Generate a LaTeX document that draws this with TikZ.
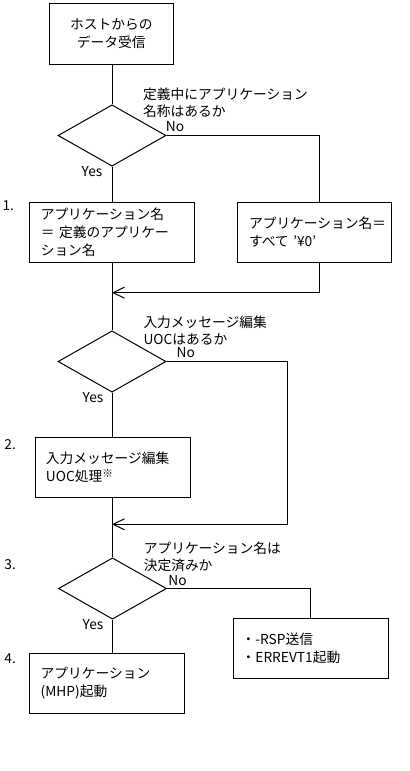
\documentclass[tikz,border=0pt]{standalone}
\usepackage{fontspec}
\setmainfont{Noto Sans CJK JP}
\usetikzlibrary{arrows.meta,shapes.geometric,calc}
\begin{document}
\begin{tikzpicture}[x=0.75pt,y=-0.75pt,line width=0.75pt,
  every node/.style={font=\fontsize{10.3pt}{13.2pt}\selectfont,inner sep=0pt},
  pbox/.style={draw,rectangle,minimum height=45pt,align=left,inner ysep=0pt},
  decision/.style={draw,diamond,minimum width=81pt,minimum height=46pt,inner sep=0pt},
  qtext/.style={anchor=west,align=left},
  arr/.style={-{Straight Barb[length=8.5pt,width=8.3pt]}}]
\useasboundingbox (0,0) rectangle (410,771);

% boxes
\node[pbox,align=center,minimum width=93pt,minimum height=45.5pt] (A) at (111.3,33.7) {ホストからの\\データ受信};
\node[decision] (D1) at (112,135.5) {};
\node[pbox,minimum width=123.5pt,text width=106.4pt,inner xsep=8.55pt] (B1) at (111.7,232.3)
  {アプリケーション名\\＝ 定義のアプリケー\\ション名};
\node[pbox,minimum width=115.8pt,text width=98.2pt,inner xsep=8.8pt] (R1) at (314.5,232.3)
  {アプリケーション名＝\\すべて '¥0'};
\node[decision] (D2) at (112,361.5) {};
\node[pbox,minimum width=116.25pt,text width=100.25pt,inner xsep=8pt] (B2) at (112.8,467.5)
  {入力メッセージ編集\\UOC処理\raisebox{0.3em}{\fontsize{8pt}{8pt}\selectfont ※}};
\node[decision] (D3) at (112.5,588.5) {};
\node[pbox,minimum width=116.25pt,text width=103.65pt,inner xsep=6.3pt] (R2) at (310.8,648.3)
  {・-RSP送信\\・ERREVT1起動};
\node[pbox,minimum width=116.25pt,text width=99.15pt,inner xsep=8.55pt] (B4) at (106.8,683.3)
  {アプリケーション\\(MHP)起動};

% question texts
\node[qtext] (Q1) at (142.7,102.7) {定義中にアプリケーション\\名称はあるか};
\node[qtext] (Q2) at (143,330.7) {入力メッセージ編集\\UOCはあるか};
\node[qtext] (Q3) at (143.3,556.7) {アプリケーション名は\\決定済みか};

% yes / no
\node (N1) at (175,127) {No};
\node (N2) at (185.7,353) {No};
\node (N3) at (177.5,580.7) {No};
\node (Y1) at (92,172) {Yes};
\node (Y2) at (93,398) {Yes};
\node (Y3) at (93,624.3) {Yes};

% step numbers
\node[anchor=west] (S1) at (2,206) {1.};
\node[anchor=west] (S2) at (4,445) {2.};
\node[anchor=west] (S3) at (4,565) {3.};
\node[anchor=west] (S4) at (4,658.3) {4.};

% connectors
\coordinate (M1) at (112,292.7);
\coordinate (M2) at (112,524.3);
\coordinate (C2) at (287.3,524.3);
\draw (D1.north |- A.south) -- (D1.north);
\draw (D1.south) -- (D1.south |- B1.north);
\draw (D1.east) -| ([xshift=4.1pt]R1.north);
\draw[arr] ([xshift=4.1pt]R1.south) |- (M1);
\draw (D2.north |- B1.south) -- (D2.north);
\draw (D2.south) -- (D2.south |- B2.north);
\draw[arr] (D2.east) -| (C2) -- (M2);
\draw (D3.north |- B2.south) -- (D3.north);
\draw (D3.east) -| (R2.north);
\draw (D3.south) -- (D3.south |- B4.north);
\end{tikzpicture}
\end{document}
